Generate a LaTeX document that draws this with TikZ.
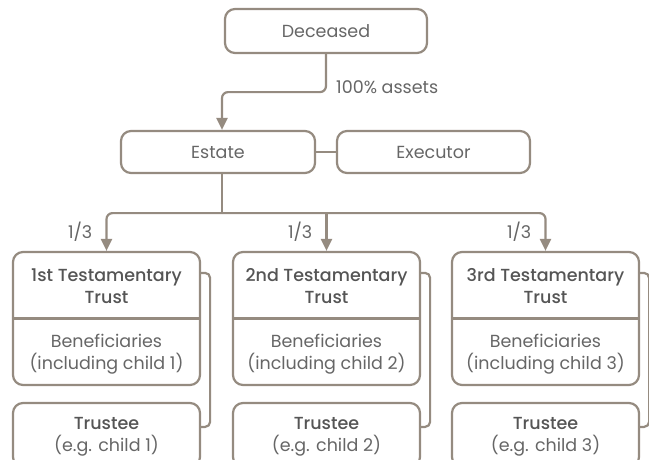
\documentclass[tikz,border=0pt]{standalone}
\usepackage{fontspec}
\setmainfont{Poppins}[BoldFont={Poppins Medium}]
\usetikzlibrary{arrows.meta, positioning}
\definecolor{linegrey}{HTML}{958B80}
\definecolor{textgrey}{HTML}{666666}
\definecolor{titlegrey}{HTML}{555555}

\begin{document}
\begin{tikzpicture}[
    x=1pt, y=-1pt,
    box/.style={draw=linegrey, line width=2.2pt, rounded corners=10pt, inner sep=0pt},
    lbl/.style={text=textgrey, align=center, inner sep=0pt, font=\fontsize{17.5}{22}\selectfont},
    conn/.style={draw=linegrey, line width=2.2pt, rounded corners=6pt},
    >={Triangle[width=11pt,length=12pt]} % Arrow style
]
\useasboundingbox (0,0) rectangle (649,459);

% Nodes
\node[box, lbl, minimum width=202pt, minimum height=44pt] (dec) at (326,31) {Deceased};
\node[box, lbl, minimum width=194pt, minimum height=42pt] (est) at (218,152) {Estate};
\node[box, lbl, minimum width=193pt, minimum height=42pt] (exe) at (433.5,152) {Executor};
\node[lbl, anchor=west] (assets) at ([xshift=10pt,yshift=-33pt]dec.south) {100\% assets};

% Arrows
\draw[conn, ->] (dec.south) -- ++(0,38) -| ([xshift=4pt]est.north);
\draw[conn] (est) -- (exe);
\draw[conn] ([xshift=4pt]est.south) -- ++(0,39) coordinate (bus);

% Trusts
\foreach \i/\x/\ord in {1/106.5/1st, 2/326.5/2nd, 3/545.5/3rd} {
  \node[box, minimum width=187pt, minimum height=133pt] (t\i) at (\x,318.5) {};
  \node[lbl, text=titlegrey] (title\i) at (\x,286) {\textbf{\ord\ Testamentary}\\\textbf{Trust}};
  \node[lbl] (ben\i) at (\x,354.5) {Beneficiaries\\(including child \i)};
  \draw[conn] (t\i.west) -- (t\i.east);
  \node[box, minimum width=187pt, minimum height=64pt] (tr\i) at (\x,435) {};
  \node[lbl] (trt\i) at (\x,437) {\textcolor{titlegrey}{\textbf{Trustee}}\\(e.g. child \i)};
  \draw[conn, rounded corners=5pt] ([yshift=-22pt]t\i.north east) -- ++(9,0) |- ([yshift=-25pt]tr\i.north east);
  \node[lbl, anchor=east] (f\i) at ([xshift=-14pt,yshift=19pt]t\i.north) {1/3};
}
\draw[conn, ->] (bus) -| (t1.north);
\draw[conn, ->] (bus) -| (t3.north);
\draw[conn, ->] (bus -| t2.north) -- (t2.north);

\end{tikzpicture}
\end{document}
